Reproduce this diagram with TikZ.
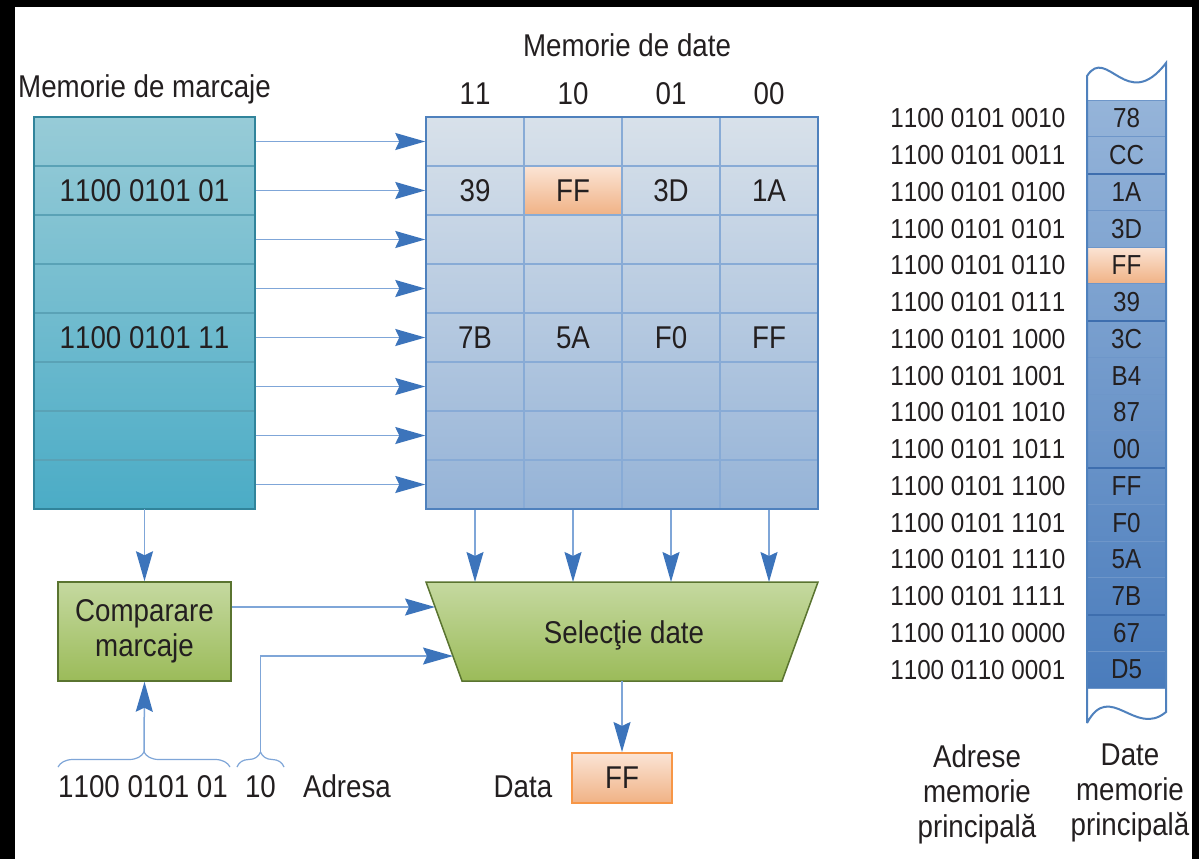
\documentclass[tikz,border=0pt]{standalone}
\usepackage{fontspec}
\setmainfont{Liberation Sans}[FakeStretch=0.88,Kerning=Off]
\usetikzlibrary{arrows.meta,decorations.pathreplacing}

\definecolor{ink}{HTML}{231F20}
\definecolor{linkline}{HTML}{7FA6D8}
\definecolor{linkhead}{HTML}{3C74BB}
\definecolor{tagtop}{HTML}{97CBD7}
\definecolor{tagbot}{HTML}{4BACC6}
\definecolor{tagedge}{HTML}{31849B}
\definecolor{tagline}{HTML}{5AA2B6}
\definecolor{dattop}{HTML}{D8E1EA}
\definecolor{datbot}{HTML}{95B3D7}
\definecolor{datedge}{HTML}{4F81BD}
\definecolor{datline}{HTML}{88ABD6}
\definecolor{grntop}{HTML}{C5D9A0}
\definecolor{grnbot}{HTML}{9BBB59}
\definecolor{grnedge}{HTML}{5A7430}
\definecolor{orgtop}{HTML}{FBE4D5}
\definecolor{orgbot}{HTML}{F0B285}
\definecolor{orgedge}{HTML}{F79646}
\definecolor{memtop}{HTML}{95B4D9}
\definecolor{membot}{HTML}{4A7CBC}
\definecolor{memline}{HTML}{6E96C9}
\definecolor{memgroup}{HTML}{3E6EAE}

\newcommand\fsA{\fontsize{31.5}{35}\selectfont}
\newcommand\fsB{\fontsize{27.5}{30}\selectfont}

\begin{document}
\begin{tikzpicture}[x=1pt,y=-1pt,
  lbl/.style={inner sep=0pt,text=ink,font=\fsA},
  small/.style={inner sep=0pt,text=ink,font=\fsB},
  conn/.style={draw=linkline,line width=1.5pt,-{Stealth[length=30pt,width=17pt,inset=4pt,color=linkhead]}},
  tagblk/.style={minimum width=221pt,minimum height=392pt,inner sep=0pt,top color=tagtop,bottom color=tagbot},
  tagrow/.style={lbl,minimum width=221pt,minimum height=49pt,draw=tagline,line width=1.5pt},
  datblk/.style={minimum width=392pt,minimum height=392pt,inner sep=0pt,top color=dattop,bottom color=datbot},
  cell/.style={lbl,minimum width=98pt,minimum height=49pt,draw=datline,line width=1.5pt},
  cellhot/.style={cell,top color=orgtop,bottom color=orgbot},
  greenbox/.style={lbl,align=center,minimum width=173pt,minimum height=99pt,draw=grnedge,line width=1.5pt,top color=grntop,bottom color=grnbot},
  outbox/.style={lbl,minimum width=100pt,minimum height=50pt,draw=orgedge,line width=2pt,top color=orgtop,bottom color=orgbot},
  memblk/.style={minimum width=79pt,minimum height=588pt,inner sep=0pt,top color=memtop,bottom color=membot},
  mrow/.style={small,minimum width=79pt,minimum height=36.75pt,draw=memline,line width=1pt},
  mrowhot/.style={mrow,top color=orgtop,bottom color=orgbot},
  addr/.style={small,anchor=east},
  brace/.style={draw=linkline,line width=1.2pt,decorate,decoration={brace,amplitude=15pt}},
]
% page frame
\useasboundingbox (0,0) rectangle (1199,859);
\fill[black] (0,0) rectangle (1199,859);
\fill[white] (15,7) rectangle (1192,859);

% titles
\node[lbl,anchor=base west] (ttag) at (18,97) {Memorie de marcaje};
\node[lbl,anchor=base] (tdat) at (627,57) {Memorie de date};

% tag memory
\node[tagblk] (tag) at (144.5,313) {};
\foreach \v [count=\k] in {{},1100 0101 01,{},{},1100 0101 11,{},{},{}}
  \node[tagrow] (t\k) at (144.5,{92.5+49*\k}) {\v};
\draw[tagedge,line width=2pt] (tag.north west) rectangle (tag.south east);

% data memory
\node[datblk] (dat) at (622,313) {};
\foreach \r in {1,3,4,6,7,8}
  \foreach \c in {1,...,4}
    \node[cell] (d\r-\c) at ({377+98*\c},{92.5+49*\r}) {};
\foreach \v/\s [count=\c] in {39/cell,FF/cellhot,3D/cell,1A/cell}
  \node[\s] (d2-\c) at ({377+98*\c},190.5) {\v};
\foreach \v [count=\c] in {7B,5A,F0,FF}
  \node[cell] (d5-\c) at ({377+98*\c},337.5) {\v};
\draw[datedge,line width=2pt] (dat.north west) rectangle (dat.south east);

% column headers
\foreach \v [count=\c] in {11,10,01,00}
  \node[lbl] (h\c) at ({377+98*\c},94) {\v};

% tag rows feed data rows
\foreach \k in {1,...,8}
  \draw[conn] (t\k.east) -- (d\k-1.west);

% tag comparator
\node[greenbox] (cmp) at (144.5,631.5) {Comparare\\marcaje};
\draw[conn] (tag.south) -- (cmp.north);

% data selector
\draw[draw=grnedge,line width=1.5pt,top color=grntop,bottom color=grnbot]
  (426,582) -- (818,582) -- (782,681) -- (462,681) -- cycle;
\node[lbl,anchor=base] (sel) at (624,643) {Selecţie date};
\coordinate (selin1) at (435,607);
\coordinate (selin2) at (453,656);
\coordinate (seltop) at (622,582);
\coordinate (selout) at (622,681);
\foreach \c in {1,...,4}
  \draw[conn] (d8-\c.south) -- (d8-\c.south |- seltop);
\draw[conn] (cmp.east |- selin1) -- (selin1);

% output word
\node[outbox] (out) at (622,778) {FF};
\draw[conn] (selout) -- (out.north);
\node[lbl,anchor=base] (ldata) at (523,797) {Data};

% address fields
\node[lbl,anchor=base] (atag) at (143,797) {1100 0101 01};
\node[lbl,anchor=base] (aoff) at (260.5,797) {10};
\node[lbl,anchor=base] (aname) at (347,797) {Adresa};
\draw[brace] (58,767) -- (230,767);
\draw[brace] (237,767) -- (284,767);
\coordinate (tagtip) at (144,752);
\coordinate (offtip) at (260.5,752);
\draw[conn] (tagtip) -- (cmp.south);
\draw[conn] (offtip) |- (selin2);

% main memory column
\node[memblk] (mem) at (1126.5,394) {};
\foreach \v/\s [count=\k] in {78/mrow,CC/mrow,1A/mrow,3D/mrow,FF/mrowhot,39/mrow,3C/mrow,B4/mrow,87/mrow,00/mrow,FF/mrow,F0/mrow,5A/mrow,7B/mrow,67/mrow,D5/mrow}
  \node[\s] (m\k) at (1126.5,{100+36.75*(\k-0.5)}) {\v};
\foreach \k in {2,6,10,14}
  \draw[memgroup,line width=2pt] (m\k.south west) -- (m\k.south east);
\draw[datedge,line width=2pt] (1087,723) -- (1087,76)
  .. controls (1107,45) and (1127,114) .. (1166,63) -- (1166,712)
  .. controls (1135,738) and (1110,680) .. (1087,723);

% addresses
\foreach \a [count=\k] in {1100 0101 0010,1100 0101 0011,1100 0101 0100,1100 0101 0101,1100 0101 0110,1100 0101 0111,1100 0101 1000,1100 0101 1001,1100 0101 1010,1100 0101 1011,1100 0101 1100,1100 0101 1101,1100 0101 1110,1100 0101 1111,1100 0110 0000,1100 0110 0001}
  \node[addr] (a\k) at ([xshift=-21pt]m\k.west) {\a};

% column captions
\node[lbl,align=center,anchor=north] (lad) at (977,744) {Adrese\\memorie\\principală};
\node[lbl,align=center,anchor=north] (ldt) at (1130,744) {Date\\memorie\\principală};
\end{tikzpicture}
\end{document}
